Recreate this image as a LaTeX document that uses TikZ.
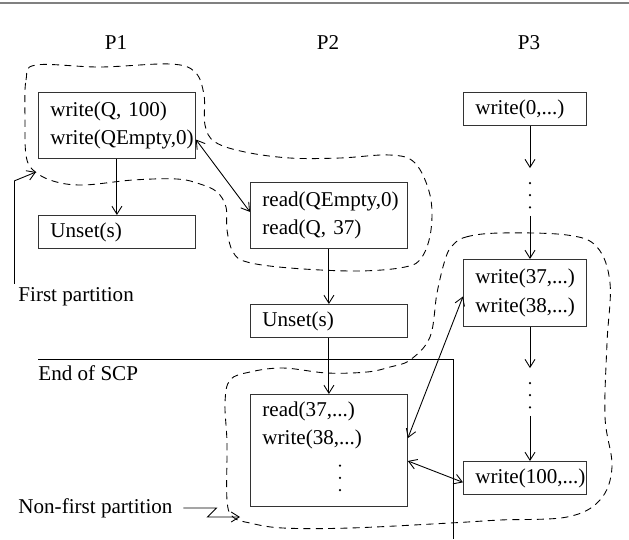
\documentclass[tikz,border=0pt]{standalone}
\usepackage{fontspec}
\setmainfont{Liberation Serif}
\usetikzlibrary{arrows.meta, positioning, calc}

\begin{document}
\begin{tikzpicture}[x=0.02cm, y=-0.02cm, line width=0.5pt,
    font=\fontsize{12}{16}\selectfont,
    opbox/.style={draw=black!80, anchor=north west, align=left,
                  inner xsep=0.24cm, text width=2.66cm, minimum height=#1},
    opbox/.default=0.66cm,
    narrowbox/.style={opbox=#1, text width=1.98cm},
    narrowbox/.default=0.66cm,
    gap/.style={inner sep=0pt, minimum width=4pt, minimum height=26.7pt},
    note/.style={inner sep=0pt, anchor=west},
    flow/.style={-{Straight Barb[length=1.6mm,width=2mm]}},
    link/.style={{Straight Barb[length=1.6mm,width=2mm]}-{Straight Barb[length=1.6mm,width=2mm]}},
    partition/.style={dash pattern=on 4pt off 3pt}]
    \useasboundingbox (0,0) rectangle (629,539);
    \draw[gray, line width=1.2pt] (0,3) -- (629,3);

    % Process headers
    \node (p1lab) at (116,43) {P1};
    \node (p2lab) at (328,43) {P2};
    \node (p3lab) at (529,43) {P3};

    % P1
    \node[opbox=1.32cm] (p1a) at (38,92) {write(Q, 100)\\write(QEmpty,0)};
    \node[opbox] (p1b) at (38,215) {Unset(s)};
    % P2
    \node[opbox=1.32cm] (p2a) at (250,182) {read(QEmpty,0)\\read(Q, 37)};
    \node[opbox] (p2b) at (250,304) {Unset(s)};
    \node[opbox=2.24cm] (p2c) at (250,394)
      {read(37,...)\\write(38,...)\\[6pt]\rule[-6pt]{0pt}{21.3pt}};
    % P3
    \node[narrowbox] (p3a) at (463,92) {write(0,...)};
    \node[gap] (dotsA) at (530,192) {};
    \node[narrowbox=1.34cm] (p3b) at (463,259) {write(37,...)\\write(38,...)};
    \node[gap] (dotsB) at (530,392) {};
    \node[narrowbox] (p3c) at (463,461) {write(100,...)};

    % Dots
    \foreach \k in {5.1,-1.8,-8.7}{
      \fill ([yshift=\k pt]dotsA.center) circle (0.7pt);
      \fill ([yshift=\k pt]dotsB.center) circle (0.7pt);
    }
    \foreach \k in {-7,0,7}
      \fill ([xshift=90*0.02cm, yshift=(16.5+\k)*1pt]p2c.south west) circle (0.7pt);

    % Program order
    \draw[flow] (p1a) -- (p1b);
    \draw[flow] (p2a) -- (p2b);
    \draw[flow] (p2b) -- (p2c);
    \draw[flow] (dotsA |- p3a.south) -- (dotsA);
    \draw[flow] (dotsA) -- (dotsA |- p3b.north);
    \draw[flow] (dotsB |- p3b.south) -- (dotsB);
    \draw[flow] (dotsB) -- (dotsB |- p3c.north);

    % Conflicts
    \draw[link] ([yshift=-8pt]p1a.east) -- ([yshift=2pt]p2a.west);
    \draw[link] ([yshift=7pt]p2c.east) -- ([yshift=-2pt]p3b.west);
    \draw[link] ([yshift=-6pt]p2c.east) -- ([yshift=-2.5pt]p3c.west);

    % End of SCP
    \coordinate (scpL) at (38,359);
    \coordinate (scpR) at (453,359);
    \coordinate (scpB) at (453,539);
    \draw (scpL) -- (scpR) -- (scpB);
    \node[note] (scp) at (38,373) {End of SCP};

    % Partitions
    \draw[partition] plot[smooth cycle, tension=0.6] coordinates {
      (25,120) (26,80) (36,65) (100,67) (170,64) (195,72) (204,95) (205,125)
      (215,142) (245,152) (290,158) (340,158) (390,155) (415,163) (430,195)
      (431,230) (422,257) (405,267) (357,271) (290,268) (247,262) (233,252)
      (227,230) (226,207) (217,192) (200,184) (177,179) (133,180) (83,185)
      (53,181) (33,170) (26,155)};
    \draw[partition] plot[smooth cycle, tension=0.6] coordinates {
      (452,246) (466,237) (500,233) (567,235) (597,247) (610,283) (607,343)
      (605,417) (612,467) (600,500) (567,517) (500,520) (450,523) (350,528)
      (283,528) (250,523) (233,517) (227,500) (227,443) (225,403) (230,380)
      (250,372) (283,368) (327,373) (367,372) (390,367) (410,360) (430,337)
      (437,293) (445,260)};

    % Partition labels
    \node[note] (fp) at (18,297) {First partition};
    \coordinate (fpTip) at (36,172);
    \draw[flow] ([xshift=-2pt,yshift=2pt]fp.north west) -- ++(0,-103) -- (fpTip);
    \node[note] (nfp) at (18,508) {Non-first partition};
    \coordinate (nfpTip) at (240,517);
    \draw[flow] ([xshift=6pt]nfp.east) -- ++(33,0) -- ++(-9,9) -- (nfpTip);
\end{tikzpicture}
\end{document}
